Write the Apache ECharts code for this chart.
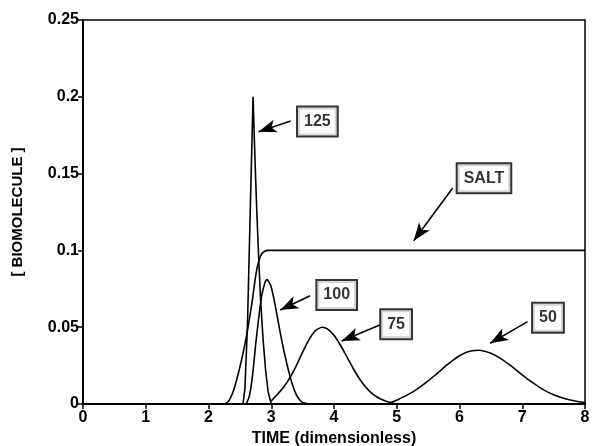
<!DOCTYPE html>
<html>
<head>
<meta charset="utf-8">
<script src="https://cdn.jsdelivr.net/npm/echarts@6/dist/echarts.min.js"></script>
<style>
  html, body { margin: 0; padding: 0; background: #fff; }
  #chart { width: 593px; height: 446px; }
</style>
</head>
<body>
<div id="chart"></div>
<script>
// values, [time, concentration]
const salt = [
  [2.25, 0], [2.3, 0.001], [2.35, 0.004], [2.4, 0.009], [2.45, 0.016], [2.5, 0.024],
  [2.55, 0.033], [2.6, 0.043], [2.65, 0.055], [2.7, 0.068], [2.75, 0.083], [2.8, 0.093],
  [2.85, 0.098], [2.9, 0.0995], [2.95, 0.1], [8, 0.1]
];
const peak125 = [
  [2.55, 0], [2.58, 0.01], [2.62, 0.05], [2.65, 0.1], [2.68, 0.15], [2.71, 0.2],
  [2.74, 0.16], [2.77, 0.125], [2.8, 0.095], [2.83, 0.068], [2.87, 0.042],
  [2.91, 0.022], [2.95, 0.008], [3.0, 0]
];
const peak100 = [
  [2.6, 0], [2.65, 0.005], [2.7, 0.018], [2.75, 0.038], [2.8, 0.056], [2.85, 0.071],
  [2.9, 0.079], [2.93, 0.081], [2.97, 0.079], [3.0, 0.076], [3.05, 0.067], [3.1, 0.056],
  [3.15, 0.045], [3.2, 0.035], [3.25, 0.026], [3.3, 0.018], [3.35, 0.011], [3.4, 0.006],
  [3.45, 0.003], [3.5, 0.001], [3.6, 0]
];
const peak75 = [
  [3.0, 0.002], [3.1, 0.0064], [3.2, 0.011], [3.3, 0.0173], [3.4, 0.025], [3.5, 0.0338],
  [3.6, 0.0418], [3.7, 0.0476], [3.81, 0.05], [3.9, 0.0488], [4.0, 0.0447], [4.1, 0.0384],
  [4.2, 0.0311], [4.3, 0.0236], [4.4, 0.0168], [4.5, 0.0113], [4.6, 0.0071], [4.7, 0.0042],
  [4.8, 0.0023], [4.9, 0.001], [5.0, 0]
];
const peak50 = [
  [4.9, 0.001], [5.0, 0.0025], [5.1, 0.0045], [5.2, 0.0066], [5.3, 0.009], [5.4, 0.0119],
  [5.5, 0.015], [5.6, 0.0184], [5.7, 0.0219], [5.8, 0.0254], [5.9, 0.0286], [6.0, 0.0314],
  [6.1, 0.0335], [6.2, 0.0347], [6.3, 0.035], [6.4, 0.0344], [6.5, 0.033], [6.6, 0.031],
  [6.7, 0.0284], [6.8, 0.0254], [6.9, 0.0222], [7.0, 0.019], [7.1, 0.0158], [7.2, 0.0129],
  [7.3, 0.0102], [7.4, 0.0079], [7.5, 0.006], [7.6, 0.0045], [7.7, 0.0032], [7.8, 0.0023],
  [7.9, 0.0015], [8.0, 0.001]
];

// callouts: text, box centre, arrow tail, arrow tip (data units)
const calloutText = ['125', 'SALT', '100', '75', '50'];
const calloutBox = [[3.735, 0.184], [6.39, 0.147], [4.043, 0.071], [4.99, 0.0519], [7.41, 0.0562]];
const arrowTail = [[3.31, 0.1842], [5.889, 0.1404], [3.619, 0.0705], [4.73, 0.0514], [7.085, 0.0536]];
const arrowTip = [[2.798, 0.1773], [5.27, 0.1063], [3.143, 0.0612], [4.122, 0.041], [6.487, 0.0395]];

const xTicks = [0, 1, 2, 3, 4, 5, 6, 7, 8];

const FONT = '"Liberation Sans", Arial, sans-serif';

function curva(nom, dades) {
  return {
    name: nom,
    type: 'line',
    data: dades,
    showSymbol: false,
    smooth: 0.2,
    lineStyle: { color: '#000', width: 1.6 },
    itemStyle: { color: '#000' },
    silent: true,
    z: 3
  };
}

const chart = echarts.init(document.getElementById('chart'), null, { renderer: 'canvas' });

chart.setOption({
  animation: false,
  backgroundColor: '#fff',
  grid: {
    left: 83, right: 8, top: 20, bottom: 42,
    show: true, borderColor: '#000', borderWidth: 1.5,
    outerBoundsMode: 'none'
  },
  xAxis: {
    type: 'value',
    min: 0, max: 8, interval: 1,
    name: 'TIME (dimensionless)',
    nameLocation: 'middle',
    nameGap: 26,
    nameTextStyle: { color: '#000', fontFamily: FONT, fontWeight: 'bold', fontSize: 16 },
    axisLine: { show: true, lineStyle: { color: '#000', width: 2 } },
    axisTick: { show: true, length: 5, lineStyle: { color: '#000', width: 1.5 } },
    axisLabel: {
      color: '#000', fontFamily: FONT, fontWeight: 'bold', fontSize: 16, margin: 6,
      formatter: (v) => xTicks.includes(v) ? String(v) : ''
    },
    splitLine: { show: false }
  },
  yAxis: {
    type: 'value',
    min: 0, max: 0.25, interval: 0.05,
    name: '[ BIOMOLECULE ]',
    nameLocation: 'middle',
    nameRotate: 90,
    nameGap: 58,
    nameTextStyle: { color: '#000', fontFamily: FONT, fontWeight: 'bold', fontSize: 15 },
    axisLine: { show: true, lineStyle: { color: '#000', width: 2 } },
    axisTick: { show: true, length: 5, lineStyle: { color: '#000', width: 1.5 } },
    axisLabel: { color: '#000', fontFamily: FONT, fontWeight: 'bold', fontSize: 16, margin: 4 },
    splitLine: { show: false }
  },
  series: [
    curva('SALT', salt),
    Object.assign(curva('125', peak125), { smooth: false }),
    curva('100', peak100),
    curva('75', peak75),
    curva('50', peak50),
    {
      name: 'callouts',
      type: 'scatter',
      silent: true,
      symbol: 'rect',
      symbolSize: 1,
      itemStyle: { color: 'rgba(0,0,0,0)' },
      data: calloutText.map((t, i) => ({ name: t, value: calloutBox[i] })),
      label: {
        show: true,
        position: 'inside',
        formatter: (p) => p.name,
        color: '#000',
        fontFamily: FONT,
        fontWeight: 'bold',
        fontSize: 16,
        backgroundColor: '#fff',
        borderColor: '#000',
        borderWidth: 2,
        padding: [7, 6, 5, 6]
      },
      markLine: {
        silent: true,
        symbol: ['none', 'arrow'],
        symbolSize: [10, 18],
        label: { show: false },
        lineStyle: { color: '#000', width: 1.6, type: 'solid' },
        data: arrowTail.map((a, i) => [{ coord: a }, { coord: arrowTip[i] }])
      },
      z: 5
    }
  ]
});
</script>
</body>
</html>
